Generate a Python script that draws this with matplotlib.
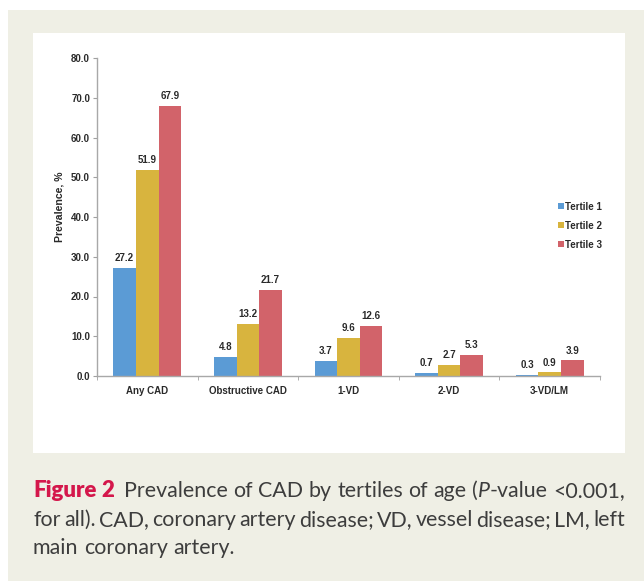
import matplotlib
matplotlib.use("Agg")
import matplotlib.pyplot as plt
import numpy as np
from matplotlib.patches import Rectangle

categories = ["Any CAD", "Obstructive CAD", "1-VD", "2-VD", "3-VD/LM"]
series_names = ["Tertile 1", "Tertile 2", "Tertile 3"]
tertile1 = [27.2, 4.8, 3.7, 0.7, 0.3]
tertile2 = [51.9, 13.2, 9.6, 2.7, 0.9]
tertile3 = [67.9, 21.7, 12.6, 5.3, 3.9]
yticks = [0, 10, 20, 30, 40, 50, 60, 70, 80]

colors = ["#5b9bd5", "#d8b43e", "#d2636a"]
W, H = 644, 581
fig = plt.figure(figsize=(W / 100, H / 100), dpi=100)
fig.patch.set_facecolor("white")

def px(x0, y0, x1, y1):
    return (x0 / W, 1 - y1 / H, (x1 - x0) / W, (y1 - y0) / H)

bx = px(8, 10, 644, 581)
fig.patches.append(Rectangle((bx[0], bx[1]), bx[2], bx[3], transform=fig.transFigure,
                             facecolor="#efefe5", edgecolor="none", zorder=-3))
wp = px(33, 33, 625, 453)
fig.patches.append(Rectangle((wp[0], wp[1]), wp[2], wp[3], transform=fig.transFigure,
                             facecolor="white", edgecolor="none", zorder=-2))

ax = fig.add_axes(px(97, 58, 600, 376))
ax.set_zorder(2)
ax.set_facecolor("none")
x = np.arange(len(categories))
bw = 0.225
tfont = dict(family="Liberation Sans", size=7.0, color="#2a2a2a", weight="bold")
for i, (vals, name) in enumerate(zip([tertile1, tertile2, tertile3], series_names)):
    bars = ax.bar(x + (i - 1) * bw, vals, width=bw, color=colors[i], label=name, zorder=2)
    for b, v in zip(bars, vals):
        ax.annotate(f"{v:.1f}", (b.get_x() + b.get_width() / 2, v), xytext=(0, 3.5),
                    textcoords="offset points", ha="center", va="bottom", **tfont)

ax.set_xlim(-0.5, len(categories) - 0.5)
ax.set_ylim(0, 80)
ax.set_yticks(yticks)
ax.set_yticklabels([f"{v:.1f}" for v in yticks], **tfont)
ax.set_xticks(x)
ax.set_xticklabels(categories, **tfont)
ax.set_xticks(np.arange(-0.5, len(categories)), minor=True)
ax.tick_params(axis="x", which="major", length=0, pad=7)
ax.tick_params(axis="x", which="minor", length=3, color="#a0a0a0", direction="out")
ax.tick_params(axis="y", length=3, color="#a0a0a0", pad=2)
for s in ["top", "right"]:
    ax.spines[s].set_visible(False)
for s in ["left", "bottom"]:
    ax.spines[s].set_color("#a8a8a8")
    ax.spines[s].set_linewidth(1.0)
fig.text(60 / W, 1 - 207 / H, "Prevalence, %", rotation=90, ha="center", va="center",
         family="Liberation Sans", size=7.6, color="#2a2a2a", weight="bold")

leg = ax.legend(loc="upper left", bbox_to_anchor=(549 / W, 1 - 193 / H), bbox_transform=fig.transFigure,
                frameon=False, handlelength=0.6, handleheight=0.6, handletextpad=0.15,
                labelspacing=0.92, prop=dict(family="Liberation Sans", size=7.0, weight="bold"))
for t in leg.get_texts():
    t.set_color("#2a2a2a")

# caption
fig.canvas.draw()
r = fig.canvas.get_renderer()
cap_size = 15.4
ccol = "#3d3d3d"
base = dict(family="Lato", size=cap_size, color=ccol)

def width_of(txt, kw):
    t = fig.text(0, 0, txt, **kw)
    w = t.get_window_extent(renderer=r).width
    t.remove()
    return w

def put(words, y_px, x_start=33, x_end=None, extra_after=None):
    widths = [width_of(w, kw) for w, kw, _ in words]
    space = width_of("a a", base) - width_of("aa", base)
    nsp = sum(1 for _, _, s in words if s)
    extra = extra_after[1] if extra_after else 0
    total = sum(widths) + nsp * space + extra
    if x_end is not None and nsp:
        space = space + (x_end - x_start - total) / nsp
    xs = x_start
    for k, ((txt, kw, sp), w) in enumerate(zip(words, widths)):
        if sp:
            xs += space
        if extra_after and k == extra_after[0] + 1:
            xs += extra
        fig.text(xs / W, 1 - y_px / H, txt, va="baseline", ha="left", **kw)
        xs += w

def words_of(s, kw, first_space=True):
    return [(w, kw, first_space or j > 0) for j, w in enumerate(s.split(" "))]

red = dict(family="Lato", size=cap_size + 0.6, weight="heavy", color="#d4174b")
line1 = [("Figure", red, False), ("2", red, True)]
line1 += words_of("Prevalence of CAD by tertiles of age", base)
line1 += [("(", base, True), ("P", dict(base, style="italic"), False), ("-value", base, False)]
line1 += words_of("<0.001,", base)
put(line1, 497, 33, 625, extra_after=(1, 4))
put(words_of("for all). CAD, coronary artery disease; VD, vessel disease; LM, left", base, False), 526, 33, 625)
put(words_of("main coronary artery.", base, False), 554)

fig.savefig("out.png", dpi=100)
